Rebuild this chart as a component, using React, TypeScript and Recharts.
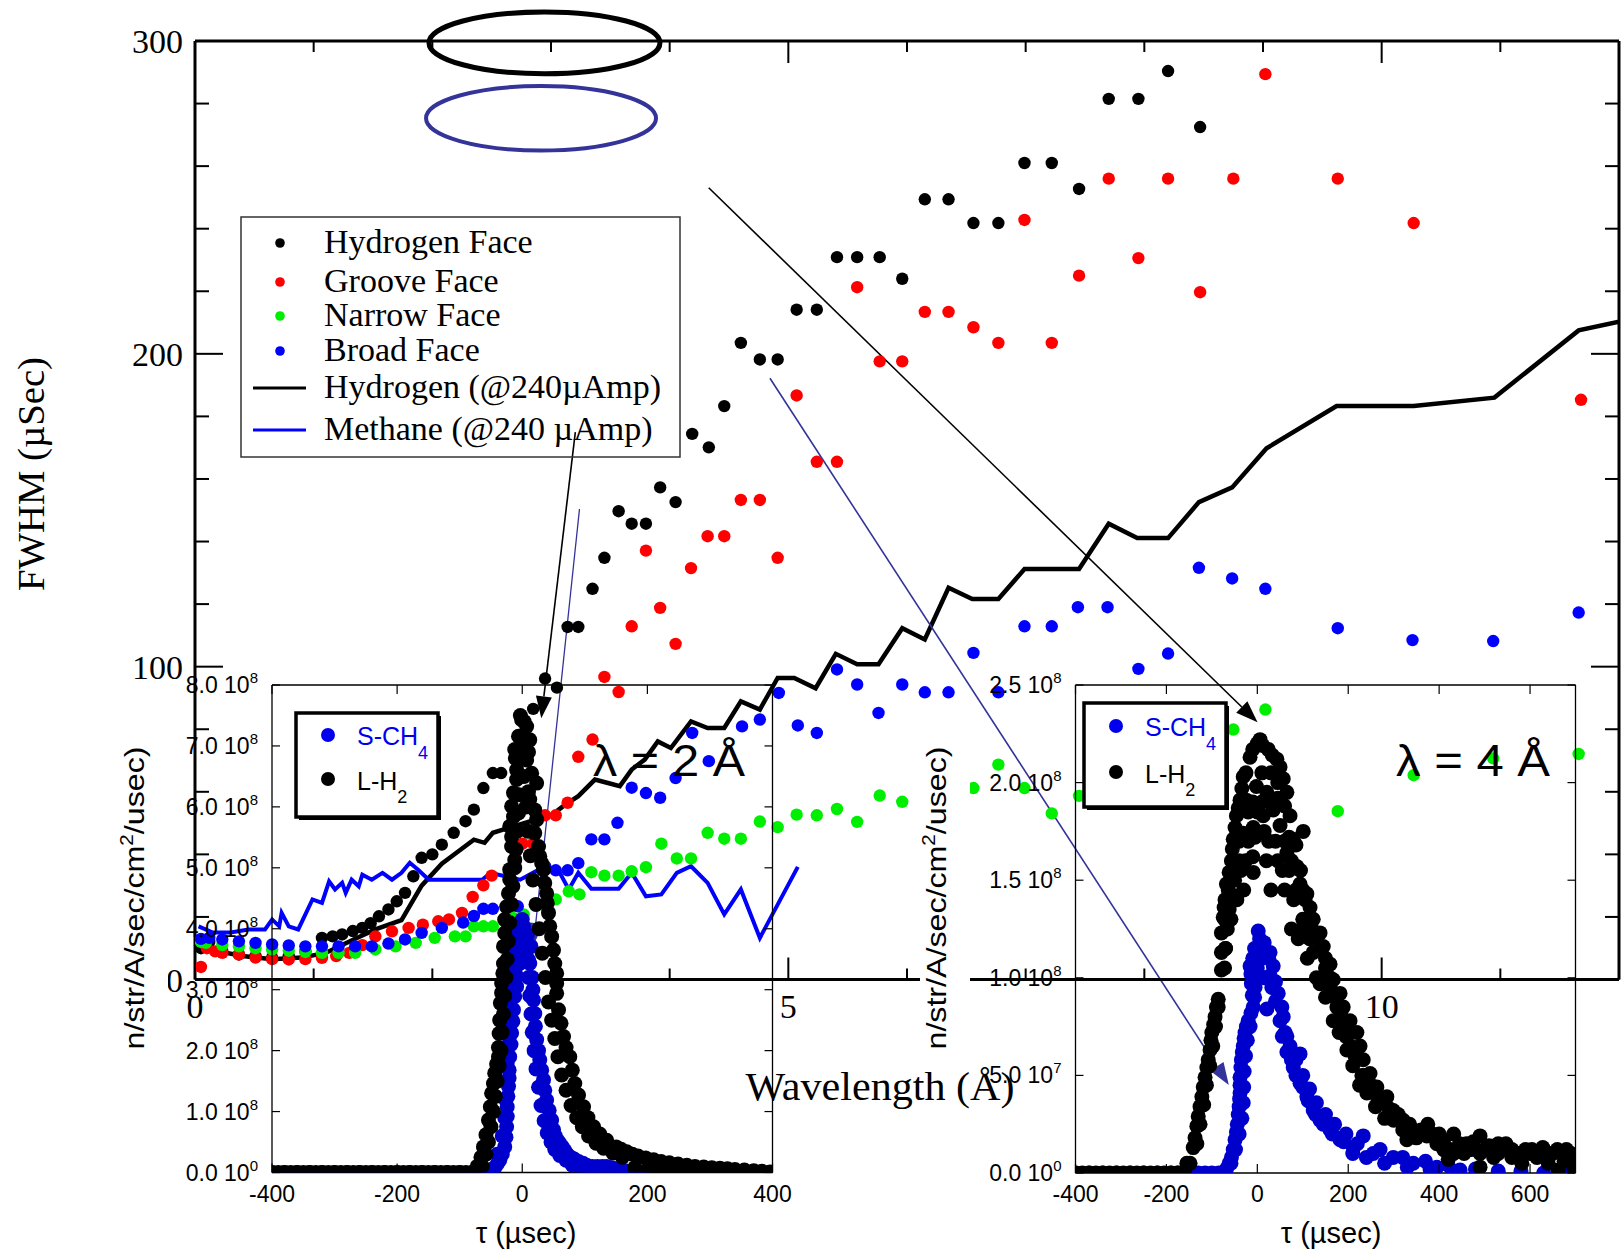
import React from 'react';
import {
  ComposedChart,
  ScatterChart,
  Scatter,
  Line,
  XAxis,
  YAxis,
  ReferenceLine,
  ReferenceArea,
} from 'recharts';

const SERIF = '"Liberation Serif", "Times New Roman", serif';
const SANS = '"Liberation Sans", Arial, sans-serif';

const PAGE_W = 1621;
const PAGE_H = 1251;

// ---------- main chart: FWHM (µs) vs wavelength (Å) ----------
type Pair = [number, number];

const hydrogenFace: Pair[] = [
  [0.05, 10], [0.12, 12], [0.23, 9], [0.37, 8], [0.51, 7.5], [0.65, 7], [0.79, 7.5], [0.93, 9],
  [1.07, 13.3], [1.16, 13.8], [1.24, 14.4], [1.33, 15.5], [1.41, 16.5], [1.48, 18], [1.55, 20.2],
  [1.63, 22.4], [1.7, 25], [1.77, 27.7], [1.84, 33], [1.91, 38.9], [2.0, 40], [2.08, 43.1],
  [2.18, 46.9], [2.28, 50.6], [2.35, 54.3], [2.43, 61.2], [2.51, 66], [2.58, 66], [2.85, 86.5],
  [2.95, 96.2], [3.05, 93.3], [3.14, 112.7], [3.23, 112.7], [3.35, 124.9], [3.45, 134.8],
  [3.57, 149.7], [3.68, 145.7], [3.8, 145.7], [3.92, 157.3], [4.05, 152.6], [4.19, 174.4],
  [4.33, 170.1], [4.46, 183.3], [4.6, 203.5], [4.76, 198.2], [4.91, 198.2], [5.07, 214.1],
  [5.24, 214.1], [5.41, 230.9], [5.58, 230.9], [5.77, 230.9], [5.96, 224], [6.15, 249.4],
  [6.35, 249.4], [6.56, 241.8], [6.77, 241.8], [6.99, 261], [7.22, 261], [7.45, 252.7],
  [7.7, 281.5], [7.95, 281.5], [8.2, 290.4], [8.47, 272.5],
];

const grooveFace: Pair[] = [
  [0.05, 4], [0.1, 10], [0.17, 9], [0.23, 8.5], [0.37, 8], [0.51, 7], [0.65, 6.5], [0.79, 6.4],
  [0.93, 6.5], [1.07, 6.9], [1.19, 7.5], [1.3, 8.5], [1.41, 11], [1.52, 13.8], [1.66, 15.4],
  [1.8, 16.5], [1.92, 17.5], [2.05, 18.6], [2.14, 19.2], [2.25, 21.3], [2.34, 26.4], [2.43, 30.1],
  [2.5, 33.2], [2.76, 43.4], [2.85, 43.4], [2.95, 52.5], [3.04, 52.5], [3.14, 56.5], [3.23, 71.2],
  [3.35, 76.7], [3.45, 96.7], [3.57, 91.9], [3.68, 112.9], [3.8, 137.1], [3.92, 118.8],
  [4.05, 107.3], [4.18, 131.5], [4.32, 141.7], [4.46, 141.7], [4.6, 153.3], [4.76, 153.3],
  [4.91, 134.8], [5.07, 186.7], [5.24, 165.5], [5.41, 165.5], [5.58, 221.3], [5.77, 197.6],
  [5.96, 197.6], [6.15, 213.4], [6.35, 213.4], [6.56, 208.5], [6.77, 203.5], [6.99, 242.8],
  [7.22, 203.5], [7.45, 225], [7.7, 256], [7.95, 230.6], [8.2, 256], [8.47, 219.7], [8.75, 256],
  [9.02, 289.4], [9.63, 256], [10.27, 241.8], [11.68, 185.3],
];

const narrowFace: Pair[] = [
  [0.05, 12], [0.09, 11.7], [0.23, 11], [0.37, 10.6], [0.51, 10], [0.65, 9.6], [0.79, 9.2],
  [0.93, 8.8], [1.07, 8.5], [1.21, 8.5], [1.35, 8.5], [1.52, 9.6], [1.69, 10.6], [1.86, 11.7],
  [2.02, 13.3], [2.19, 13.8], [2.28, 13.8], [2.35, 17], [2.43, 17], [2.51, 17], [2.6, 19.2],
  [2.68, 19.7], [2.77, 20.8], [2.96, 22.9], [3.04, 25.6], [3.15, 28.2], [3.24, 27.2],
  [3.34, 34.3], [3.45, 33.2], [3.57, 33.2], [3.68, 34.6], [3.8, 35.9], [3.93, 43.4],
  [4.06, 38.7], [4.18, 38.7], [4.32, 46.9], [4.46, 45], [4.6, 45], [4.76, 50.5], [4.91, 48.7],
  [5.07, 52.7], [5.24, 52.5], [5.41, 54.5], [5.58, 50.4], [5.77, 58.8], [5.96, 56.8],
  [6.56, 61.2], [6.77, 68.7], [6.99, 61.2], [7.22, 53.1], [7.45, 58.7], [8.75, 79.9],
  [9.02, 86.3], [9.63, 53.8], [10.27, 65.3], [10.94, 70.7], [11.66, 72.1],
];

const broadFace: Pair[] = [
  [0.05, 13], [0.12, 13.3], [0.23, 12.8], [0.37, 12.2], [0.51, 11.7], [0.65, 11.2], [0.79, 10.9],
  [0.93, 10.6], [1.07, 10.6], [1.21, 10.6], [1.35, 10.6], [1.49, 10.6], [1.63, 11.5], [1.77, 12.8],
  [1.91, 14.9], [2.08, 16.5], [2.26, 18.2], [2.35, 20.3], [2.43, 22.6], [2.51, 22.6], [2.72, 23.4],
  [2.95, 36.2], [3.04, 34.9], [3.14, 34.9], [3.23, 37.2], [3.34, 44.8], [3.45, 44.8], [3.56, 50.1],
  [3.68, 61.3], [3.8, 59.6], [3.92, 58.1], [4.05, 64.4], [4.19, 78.8], [4.33, 69.8], [4.61, 80.9],
  [4.76, 83.1], [4.92, 91.6], [5.08, 81.2], [5.24, 78.8], [5.41, 99.1], [5.58, 94.3], [5.76, 85.2],
  [5.96, 94.3], [6.15, 91.8], [6.35, 91.8], [6.56, 104.4], [6.77, 91.8], [6.99, 112.9],
  [7.22, 112.9], [7.44, 119], [7.69, 119], [7.95, 99.3], [8.2, 104.2], [8.46, 131.6],
  [8.74, 128.2], [9.02, 124.9], [9.63, 112.3], [10.26, 108.5], [10.94, 108.2], [11.66, 117.3],
];

const hydrogen240: Pair[] = [
  [0.05, 11], [0.2, 9], [0.4, 7.5], [0.65, 6.5], [0.9, 7], [1.1, 8.5], [1.35, 13], [1.52, 16],
  [1.74, 19], [1.91, 30], [2.08, 37], [2.22, 41], [2.35, 44.7], [2.44, 43.7], [2.51, 46.9],
  [2.87, 51.1], [3.01, 52.7], [3.12, 55.9], [3.23, 58.6], [3.37, 63.9], [3.48, 62.8], [3.58, 61.8],
  [3.68, 67.1], [3.79, 70.3], [3.9, 76.1], [4.01, 74], [4.18, 82.5], [4.32, 80.4], [4.46, 80.4],
  [4.6, 88.9], [4.76, 86.3], [4.91, 96.4], [5.05, 96.4], [5.23, 93.1], [5.4, 104.1], [5.58, 100.8],
  [5.76, 100.8], [5.96, 112.3], [6.15, 108.7], [6.35, 125.2], [6.55, 121.6], [6.77, 121.6],
  [6.99, 131.2], [7.45, 131.2], [7.7, 145.7], [7.94, 141.1], [8.2, 141.1], [8.46, 152.6],
  [8.74, 157.3], [9.03, 169.8], [9.62, 183.3], [10.27, 183.3], [10.95, 186], [11.66, 207.5],
  [12, 210.3],
];

const methane240: Pair[] = [
  [0.03, 17], [0.15, 15], [0.3, 15], [0.45, 16], [0.59, 16], [0.65, 19.2], [0.71, 17], [0.73, 21.3],
  [0.79, 17], [0.87, 16], [0.99, 25.6], [1.07, 24.5], [1.13, 31.4], [1.18, 28.8], [1.24, 30.9],
  [1.27, 27.7], [1.32, 31.9], [1.38, 29.8], [1.41, 33.5], [1.49, 31.9], [1.58, 34.1], [1.66, 31.9],
  [1.74, 34.1], [1.81, 37.3], [1.88, 35.1], [1.97, 31.9], [2.22, 31.9], [2.42, 31.9], [2.49, 34.1],
  [2.74, 31.9], [2.95, 36.2], [3.06, 35.1], [3.15, 28.8], [3.23, 34.1], [3.34, 29], [3.57, 29],
  [3.68, 34.1], [3.8, 26.6], [3.93, 27.2], [4.06, 34.1], [4.18, 36.2], [4.32, 30.9], [4.46, 20.8],
  [4.6, 28.8], [4.76, 13.3], [5.08, 36],
];

const wavelengthTicks = [0, 1, 2, 3, 4, 5, 6, 7, 8, 9, 10, 11, 12];
const fwhmTicks = [0, 20, 40, 60, 80, 100, 120, 140, 160, 180, 200, 220, 240, 260, 280, 300];

const mainLegend = [
  { label: 'Hydrogen Face', kind: 'dot', color: '#000000' },
  { label: 'Groove Face', kind: 'dot', color: '#ff0000' },
  { label: 'Narrow Face', kind: 'dot', color: '#00ee00' },
  { label: 'Broad Face', kind: 'dot', color: '#0000ff' },
  { label: 'Hydrogen (@240\u00b5Amp)', kind: 'line', color: '#000000' },
  { label: 'Methane (@240 \u00b5Amp)', kind: 'line', color: '#0000ff' },
];

// ---------- inset at 2 Å: counts (units of 10^8) vs tau (µs) ----------
const lh2At2A: Pair[] = [
  [-400, 0], [-390, 0], [-380, 0], [-370, 0], [-360, 0], [-350, 0], [-340, 0], [-330, 0], [-320, 0],
  [-310, 0], [-300, 0], [-290, 0], [-280, 0], [-270, 0], [-260, 0], [-250, 0], [-240, 0], [-230, 0],
  [-220, 0], [-210, 0], [-200, 0], [-190, 0], [-180, 0], [-170, 0], [-160, 0], [-150, 0], [-140, 0],
  [-130, 0], [-120, 0], [-110, 0], [-100, 0], [-90, 0], [-80, 0],
  [-72, 0.1], [-66, 0.25], [-62, 0.42], [-58, 0.62], [-54, 0.86], [-51, 1.08], [-49, 1.3],
  [-46, 1.46], [-44, 1.63], [-41, 1.78], [-38, 1.9], [-38, 2.05], [-37, 2.28], [-36, 2.5],
  [-35, 2.78], [-33, 2.95], [-33, 3.11], [-31, 3.27], [-30, 3.43], [-30, 3.71], [-28, 3.93],
  [-28, 4.15], [-25, 4.36], [-22, 4.58], [-20, 4.81], [-20, 4.97], [-12, 5.13], [-17, 5.35],
  [-17, 5.51], [-20, 5.68], [-14, 5.84], [-17, 6.01], [-14, 6.23], [-9, 6.45], [-9, 6.61],
  [-11, 6.8], [-12, 6.94], [-6, 7.16], [-1, 7.43], [-3, 7.5], [7, 7.32], [12, 7.1], [10, 6.9],
  [7, 6.77], [15, 6.55], [23, 6.39], [10, 6.25], [12, 6.12], [20, 5.95], [23, 5.79], [20, 5.57],
  [26, 5.35], [28, 5.19], [31, 5.08], [34, 4.97], [36, 4.75], [39, 4.58], [40, 4.42], [42, 4.26],
  [44, 4.04], [47, 3.87], [50, 3.65], [52, 3.43], [55, 3.27], [55, 3.1], [55, 2.94], [58, 2.67],
  [62, 2.45], [66, 2.23], [70, 2.05], [76, 1.9], [80, 1.68], [84, 1.46], [90, 1.27], [98, 1.08],
  [105, 0.9], [114, 0.75], [124, 0.63], [135, 0.53], [150, 0.42], [158, 0.38], [167, 0.34],
  [176, 0.3], [185, 0.27], [197, 0.24], [210, 0.21], [222, 0.18], [235, 0.16], [249, 0.14],
  [263, 0.12], [276, 0.1], [290, 0.09], [303, 0.08], [316, 0.07], [328, 0.06], [340, 0.05],
  [355, 0.04], [370, 0.03], [383, 0.02], [396, 0.01], [400, 0],
  [180, 0.08], [200, 0.04], [220, 0.02], [240, 0.01], [260, 0], [280, 0], [300, 0], [320, 0],
  [340, 0], [360, 0], [380, 0],
  [-64, 0.1], [-58, 0.3], [-54, 0.5], [-50, 0.75], [-46, 1.0], [-43, 1.25], [-40, 1.5], [-37, 1.75],
  [-34, 2.0], [-32, 2.3], [-30, 2.6], [-28, 2.9], [-26, 3.2], [-24, 3.5], [-22, 3.8], [-20, 4.1],
  [-17, 4.4], [-15, 4.7], [-12, 5.0], [-10, 5.3], [-8, 5.6], [-6, 5.9], [-5, 6.2], [-3, 6.5],
  [-1, 6.8], [1, 7.1], [3, 7.4],
  [0, 7.0], [3, 6.5], [6, 6.0], [9, 5.6], [13, 5.2], [17, 4.8], [22, 4.4], [27, 4.0], [32, 3.6],
  [37, 3.2], [42, 2.8], [47, 2.5], [52, 2.2], [57, 1.9], [63, 1.6], [70, 1.35], [78, 1.1],
  [87, 0.9], [96, 0.75], [106, 0.6], [118, 0.48], [130, 0.4], [145, 0.32], [160, 0.25],
];

const sch4At2A: Pair[] = [
  [-400, 0], [-380, 0], [-360, 0], [-340, 0], [-320, 0], [-300, 0], [-280, 0], [-260, 0], [-240, 0],
  [-220, 0], [-200, 0], [-180, 0], [-160, 0], [-140, 0], [-120, 0], [-100, 0], [-80, 0], [-70, 0],
  [-60, 0], [-52, 0.02], [-48, 0.05], [-44, 0.08], [-40, 0.14], [-36, 0.2], [-32, 0.3], [-28, 0.42],
  [-26, 0.58], [-25, 0.75], [-24, 0.92], [-24, 1.08], [-23, 1.25], [-22, 1.41], [-21, 1.55],
  [-21, 1.68], [-20, 1.9], [-18, 2.1], [-17, 2.29], [-15, 2.48], [-14, 2.67], [-12, 2.89],
  [-9, 3.05], [-9, 3.21], [-11, 3.27], [-4, 3.43], [-6, 3.65], [-6, 3.87], [-7, 4.04], [0, 4.15],
  [2, 4.04], [5, 3.85], [7, 3.65], [10, 3.49], [12, 3.43], [14, 3.71], [16, 3.2], [17, 3],
  [18, 2.83], [20, 2.61], [21, 2.4], [23, 2.18], [26, 2], [28, 1.85], [31, 1.68], [34, 1.52],
  [36, 1.35], [39, 1.19], [43, 1.02], [47, 0.86], [50, 0.7], [53, 0.6], [57, 0.52], [60, 0.48],
  [64, 0.42], [68, 0.36], [72, 0.3], [76, 0.26], [83, 0.22], [90, 0.18], [97, 0.15], [103, 0.12],
  [112, 0.1], [120, 0.1], [128, 0.1], [135, 0.1], [143, 0.08], [150, 0.06], [158, 0.05],
  [165, 0.03], [174, 0.02], [183, 0.01], [190, 0],
  [-40, 0.3], [-32, 0.6], [-28, 0.9], [-27, 1.2], [-26, 1.5], [-24, 1.8], [-22, 2.1], [-20, 2.4],
  [-18, 2.7], [-16, 3.0], [-14, 3.3], [-12, 3.6], [-10, 3.9],
  [8, 3.9], [10, 3.2], [12, 2.9], [14, 2.6], [16, 2.3], [19, 2.0], [22, 1.7], [26, 1.4], [30, 1.1],
  [35, 0.85], [40, 0.65], [46, 0.5], [52, 0.38], [60, 0.28], [70, 0.2], [80, 0.12], [95, 0.06],
  [110, 0.03],
];

const tauTicks2A = [-400, -200, 0, 200, 400];
const countTicks2A = [0, 1, 2, 3, 4, 5, 6, 7, 8];

// ---------- inset at 4 Å ----------
const lh2At4A: Pair[] = [
  [-400, 0], [-385, 0], [-370, 0], [-355, 0], [-340, 0], [-325, 0], [-310, 0], [-295, 0], [-280, 0],
  [-265, 0], [-250, 0], [-235, 0], [-220, 0], [-205, 0], [-190, 0], [-175, 0], [-160, 0],
  [-155, 0.05], [-141, 0.13], [-137, 0.18], [-133, 0.24], [-130, 0.29], [-126, 0.34], [-122, 0.39],
  [-119, 0.44], [-115, 0.49], [-111, 0.54], [-108, 0.58], [-104, 0.63], [-102, 0.68], [-100, 0.72],
  [-96, 0.76], [-93, 0.8], [-90, 0.85], [-86, 0.89], [-79, 1.04], [-79, 1.13], [-79, 1.23],
  [-75, 1.31], [-73, 1.36], [-71, 1.4], [-68, 1.48], [-66, 1.25], [-62, 1.35], [-62, 1.54],
  [-57, 1.6], [-55, 1.66], [-53, 1.71], [-49, 1.77], [-46, 1.83], [-42, 1.87], [-38, 1.91],
  [-34, 1.97], [-31, 2.03], [-24, 1.91], [-16, 2.13], [-10, 2.17], [6, 2.22], [0, 2.2], [12, 2.19],
  [24, 2.17], [33, 2.14], [43, 2.12], [50, 2.08], [-2, 1.98], [21, 1.95], [35, 1.86], [13, 1.83],
  [-31, 1.74], [-9, 1.77], [50, 1.78], [-20, 1.85], [-9, 1.54], [101, 1.75], [-40, 1.7],
  [-50, 1.5], [-20, 1.7], [0, 1.85], [30, 1.9], [40, 1.7], [60, 1.7], [70, 1.55], [80, 1.4],
  [57, 2.02], [65, 1.95], [72, 1.83], [79, 1.71], [65, 1.64], [87, 1.57], [94, 1.48], [109, 1.43],
  [116, 1.36], [123, 1.3], [101, 1.26], [138, 1.23], [145, 1.16], [123, 1.13], [160, 1.07],
  [167, 0.99], [182, 0.92], [189, 0.85], [204, 0.78], [219, 0.72], [226, 0.65], [233, 0.58],
  [248, 0.51], [263, 0.44], [285, 0.39], [299, 0.32], [321, 0.27], [343, 0.22], [373, 0.19],
  [395, 0.15], [424, 0.12], [241, 0.41], [197, 0.63], [167, 0.78], [138, 0.97], [150, 0.9],
  [180, 0.72], [210, 0.55], [225, 0.45], [260, 0.34], [280, 0.28], [329, 0.17], [375, 0.25],
  [432, 0.2], [432, 0.1], [490, 0.19], [490, 0.1], [547, 0.12], [547, 0.15], [604, 0.12],
  [628, 0.13], [650, 0.1], [685, 0.07], [697, 0.015], [420, 0.07], [490, 0.03], [582, 0.05],
  [662, 0.015], [460, 0.15], [520, 0.08], [575, 0.1], [640, 0.05], [700, 0],
  [-26, 1.6], [-36, 1.55], [-45, 1.4], [-58, 1.3], [-70, 1.15], [55, 1.55], [75, 1.25], [90, 1.2],
  [110, 1.1], [130, 1.0], [100, 1.45], [115, 1.2], [150, 1.05], [160, 0.95], [175, 0.85],
  [195, 0.75], [205, 0.65], [235, 0.5], [250, 0.42], [270, 0.38], [300, 0.27], [320, 0.22],
  [350, 0.18], [400, 0.2], [410, 0.12], [455, 0.1], [475, 0.16], [510, 0.14], [530, 0.1],
  [560, 0.08], [590, 0.12], [615, 0.08], [660, 0.12], [675, 0.06], [690, 0.1],
  [-25, 2.05], [10, 2.05], [30, 2.05], [45, 2.0], [-10, 1.9], [10, 1.9], [45, 1.92], [60, 1.88],
  [-45, 1.75], [-5, 1.72], [15, 1.75], [25, 1.7], [70, 1.72], [85, 1.68], [-55, 1.6], [-40, 1.6],
  [-10, 1.62], [20, 1.6], [45, 1.6], [75, 1.6], [95, 1.55], [-64, 1.45], [-50, 1.42], [-30, 1.45],
  [30, 1.45], [60, 1.45], [85, 1.45], [105, 1.4], [-72, 1.3], [-60, 1.3], [100, 1.3], [120, 1.25],
  [130, 1.2], [150, 1.1], [160, 1.0], [170, 0.9], [185, 0.8], [195, 0.7], [215, 0.6], [230, 0.5],
  [250, 0.45], [265, 0.38], [290, 0.33], [310, 0.3], [335, 0.25], [360, 0.22], [385, 0.2],
  [410, 0.17], [445, 0.15], [470, 0.12], [500, 0.12], [530, 0.15], [560, 0.12], [600, 0.1],
  [640, 0.1], [680, 0.12], [-148, 0.05], [-133, 0.15], [-126, 0.25], [-118, 0.35], [-112, 0.45],
  [-105, 0.55], [-98, 0.65], [-92, 0.75], [-86, 0.85], [-72, 1.05], [-70, 1.15], [-68, 1.25],
];

const sch4At4A: Pair[] = [
  [-400, 0], [-370, 0], [-340, 0], [-310, 0], [-280, 0], [-250, 0], [-220, 0], [-190, 0], [-175, 0],
  [-160, 0], [-145, 0], [-130, 0], [-115, 0], [-100, 0], [-85, 0], [-72, 0],
  [-68, 0.02], [-62, 0.05], [-57, 0.08], [-53, 0.12], [-49, 0.17], [-46, 0.21], [-44, 0.25],
  [-42, 0.3], [-40, 0.34], [-39, 0.38], [-38, 0.41], [-38, 0.45], [-38, 0.49], [-36, 0.54],
  [-35, 0.58], [-33, 0.62], [-31, 0.65], [-29, 0.69], [-27, 0.72], [-24, 0.75], [-20, 0.78],
  [-14, 0.82], [-9, 0.85], [-11, 0.91], [-13, 0.97], [-14, 1.02], [-16, 1.06], [-10, 1.1],
  [2, 1.24], [6, 1.16], [28, 1.13], [35, 1.06], [28, 1.01], [21, 0.84], [46, 0.92], [54, 0.85],
  [57, 0.8], [61, 0.72], [72, 0.65], [94, 0.61], [79, 0.54], [94, 0.46], [109, 0.39], [123, 0.32],
  [138, 0.27], [160, 0.22], [182, 0.17], [211, 0.13], [233, 0.19], [255, 0.1], [299, 0.08],
  [343, 0.05], [395, 0.03], [446, 0.015], [10, 1.1], [15, 1], [0, 1.05], [-5, 0.95], [40, 0.98],
  [15, 1.18], [-3, 1.1], [65, 0.7], [85, 0.58], [100, 0.5], [115, 0.43], [130, 0.36], [150, 0.3],
  [170, 0.25], [195, 0.2], [220, 0.15], [270, 0.12], [320, 0.08], [370, 0.06], [420, 0.04],
  [480, 0.02], [530, 0.01], [580, 0.01], [630, 0], [680, 0],
  [-58, 0.05], [-48, 0.12], [-40, 0.2], [-34, 0.28], [-31, 0.36], [-30, 0.44], [-29, 0.52],
  [-26, 0.6], [-22, 0.68], [-16, 0.75], [-6, 0.9], [-4, 1.0], [-6, 1.15], [5, 1.2],
  [25, 1.1], [32, 0.95], [40, 0.88], [50, 0.78], [55, 0.7], [65, 0.62], [75, 0.58], [85, 0.5],
  [100, 0.44], [112, 0.37], [128, 0.3], [145, 0.25], [165, 0.2], [190, 0.16], [210, 0.1],
  [240, 0.08], [280, 0.05], [330, 0.03], [380, 0.02], [430, 0.01],
];

const tauTicks4A = [-400, -200, 0, 200, 400, 600];
const countTicks4A = [0, 0.5, 1, 1.5, 2, 2.5];

// ---------- layout ----------
const AXIS_W = 60; // width given to every y axis
const AXIS_H = 40; // height given to every x axis

// plot boxes (left, top, right, bottom edges measured from the page)
const MAIN_BOX = { left: 195, top: 41, right: 1619, bottom: 979.5 };
const INSET2_BOX = { left: 272, top: 685, right: 772.5, bottom: 1172.5 };
const INSET4_BOX = { left: 1075.5, top: 685, right: 1575.5, bottom: 1173 };

const marginFor = (b: typeof MAIN_BOX) => ({
  left: b.left - AXIS_W,
  top: b.top,
  right: PAGE_W - b.right,
  bottom: PAGE_H - b.bottom - AXIS_H,
});

const MAIN_W = MAIN_BOX.right - MAIN_BOX.left;
const MAIN_H = MAIN_BOX.bottom - MAIN_BOX.top;

const toPts = (arr: Pair[]) => arr.map(([x, y]) => ({ x, y }));

const dot = (color: string, r: number) => (p: any) =>
  <circle cx={p.cx} cy={p.cy} r={r} fill={color} />;

const MainXTick = (p: any) => {
  const { x, y, payload } = p;
  const v = payload.value;
  const major = v % 5 === 0;
  const len = major ? 22 : 11;
  return (
    <g>
      <line x1={x} y1={y} x2={x} y2={y - len} stroke="#000" strokeWidth={2} />
      <line x1={x} y1={y - MAIN_H} x2={x} y2={y - MAIN_H + len} stroke="#000" strokeWidth={2} />
      {major && v < 12 && (
        <text x={x} y={y + 38} textAnchor="middle" fontFamily={SERIF} fontSize={34} fill="#000">
          {v}
        </text>
      )}
    </g>
  );
};

const MainYTick = (p: any) => {
  const { x, y, payload } = p;
  const v = payload.value;
  const major = v % 100 === 0;
  const len = major ? 28 : 14;
  return (
    <g>
      <line x1={x} y1={y} x2={x + len} y2={y} stroke="#000" strokeWidth={2} />
      <line x1={x + MAIN_W} y1={y} x2={x + MAIN_W - len} y2={y} stroke="#000" strokeWidth={2} />
      {major && (
        <text x={x - 12} y={y + 12} textAnchor="end" fontFamily={SERIF} fontSize={34} fill="#000">
          {v}
        </text>
      )}
    </g>
  );
};

const arrowShape = (color: string, width: number) => (p: any) => {
  const { x1, y1, x2, y2 } = p;
  const a = Math.atan2(y2 - y1, x2 - x1);
  const L = 22;
  const hw = 8;
  const bx = x2 - L * Math.cos(a);
  const by = y2 - L * Math.sin(a);
  const pts = `${x2},${y2} ${bx + hw * Math.sin(a)},${by - hw * Math.cos(a)} ${bx - hw * Math.sin(a)},${by + hw * Math.cos(a)}`;
  return (
    <g>
      <line x1={x1} y1={y1} x2={bx} y2={by} stroke={color} strokeWidth={width} />
      <polygon points={pts} fill={color} />
    </g>
  );
};

const ellipseShape = (color: string, width: number) => (p: any) => (
  <ellipse
    cx={p.x + p.width / 2}
    cy={p.y + p.height / 2}
    rx={Math.abs(p.width) / 2}
    ry={Math.abs(p.height) / 2}
    fill="none"
    stroke={color}
    strokeWidth={width}
  />
);

function MainChart() {
  return (
    <ComposedChart width={PAGE_W} height={PAGE_H} margin={marginFor(MAIN_BOX)}>
      <XAxis
        type="number"
        dataKey="x"
        domain={[0, 12]}
        ticks={wavelengthTicks}
        interval={0}
        height={AXIS_H}
        tickSize={0}
        tickMargin={0}
        tickLine={false}
        allowDataOverflow
        axisLine={{ stroke: '#000', strokeWidth: 3 }}
        tick={(p: any) => <MainXTick {...p} />}
      />
      <YAxis
        type="number"
        dataKey="y"
        domain={[0, 300]}
        ticks={fwhmTicks}
        interval={0}
        width={AXIS_W}
        tickSize={0}
        tickMargin={0}
        tickLine={false}
        allowDataOverflow
        axisLine={{ stroke: '#000', strokeWidth: 3 }}
        tick={(p: any) => <MainYTick {...p} />}
      />
      <ReferenceLine y={300} stroke="#000" strokeWidth={3} />
      <ReferenceLine x={12} stroke="#000" strokeWidth={3} />

      <Line
        data={toPts(hydrogen240)}
        dataKey="y"
        type="linear"
        stroke="#000"
        strokeWidth={4.5}
        dot={false}
        activeDot={false}
        isAnimationActive={false}
      />
      <Line
        data={toPts(methane240)}
        dataKey="y"
        type="linear"
        stroke="#0000ff"
        strokeWidth={4}
        dot={false}
        activeDot={false}
        isAnimationActive={false}
      />
      <Scatter data={toPts(hydrogenFace)} shape={dot('#000000', 6.2)} isAnimationActive={false} />
      <Scatter data={toPts(grooveFace)} shape={dot('#ff0000', 6.2)} isAnimationActive={false} />
      <Scatter data={toPts(narrowFace)} shape={dot('#00ee00', 6.2)} isAnimationActive={false} />
      <Scatter data={toPts(broadFace)} shape={dot('#0000ff', 6.2)} isAnimationActive={false} />

      <ReferenceArea x1={1.972} x2={3.918} y1={289.5} y2={309.3} ifOverflow="visible" shape={ellipseShape('#000', 5)} />
      <ReferenceArea x1={1.947} x2={3.885} y1={265} y2={285.6} ifOverflow="visible" shape={ellipseShape('#333399', 4)} />

      <ReferenceLine segment={[{ x: 4.329, y: 253.1 }, { x: 8.954, y: 82.2 }]} ifOverflow="visible" shape={arrowShape('#000', 1.6)} />
      <ReferenceLine segment={[{ x: 3.205, y: 175 }, { x: 2.918, y: 83.5 }]} ifOverflow="visible" shape={arrowShape('#000', 1.6)} />
      <ReferenceLine segment={[{ x: 4.845, y: 192.2 }, { x: 8.712, y: -33.7 }]} ifOverflow="visible" shape={arrowShape('#333399', 1.6)} />
      <ReferenceLine segment={[{ x: 3.24, y: 150.4 }, { x: 2.852, y: 11 }]} ifOverflow="visible" shape={arrowShape('#333399', 1.3)} />
    </ComposedChart>
  );
}

// ---------- inset ----------
const sciParts = (v: number): [string, string] => {
  if (v === 0) return ['0.0', '0'];
  const raw = v * 1e8;
  const e = Math.floor(Math.log10(raw) + 1e-9);
  return [(raw / Math.pow(10, e)).toFixed(1), String(e)];
};

const InsetXTick = (p: any) => {
  const { x, y, payload, plotH } = p;
  return (
    <g>
      <line x1={x} y1={y} x2={x} y2={y - 9} stroke="#000" strokeWidth={1.2} />
      <line x1={x} y1={y - plotH} x2={x} y2={y - plotH + 9} stroke="#000" strokeWidth={1.2} />
      <text x={x} y={y + 29} textAnchor="middle" fontFamily={SANS} fontSize={23} fill="#000">
        {String(payload.value)}
      </text>
    </g>
  );
};

const InsetYTick = (p: any) => {
  const { x, y, payload, plotW } = p;
  const [m, e] = sciParts(payload.value);
  return (
    <g>
      <line x1={x} y1={y} x2={x + 8} y2={y} stroke="#000" strokeWidth={1.2} />
      <line x1={x + plotW} y1={y} x2={x + plotW - 8} y2={y} stroke="#000" strokeWidth={1.2} />
      <text x={x - 14} y={y + 8} textAnchor="end" fontFamily={SANS} fontSize={23} fill="#000">
        {`${m} 10`}
        <tspan dy={-10} fontSize={15}>{e}</tspan>
      </text>
    </g>
  );
};

type InsetProps = {
  box: typeof MAIN_BOX;
  xDomain: [number, number];
  xTicks: number[];
  yDomain: [number, number];
  yTicks: number[];
  black: Pair[];
  blue: Pair[];
};

function Inset({ box, xDomain, xTicks, yDomain, yTicks, black, blue }: InsetProps) {
  const plotW = box.right - box.left;
  const plotH = box.bottom - box.top;
  return (
    <ScatterChart width={PAGE_W} height={PAGE_H} margin={marginFor(box)}>
      <XAxis
        type="number"
        dataKey="x"
        domain={xDomain}
        ticks={xTicks}
        interval={0}
        height={AXIS_H}
        tickSize={0}
        tickMargin={0}
        tickLine={false}
        allowDataOverflow
        axisLine={{ stroke: '#000', strokeWidth: 1.3 }}
        tick={(p: any) => <InsetXTick {...p} plotH={plotH} />}
      />
      <YAxis
        type="number"
        dataKey="y"
        domain={yDomain}
        ticks={yTicks}
        interval={0}
        width={AXIS_W}
        tickSize={0}
        tickMargin={0}
        tickLine={false}
        allowDataOverflow
        axisLine={{ stroke: '#000', strokeWidth: 1.3 }}
        tick={(p: any) => <InsetYTick {...p} plotW={plotW} />}
      />
      <ReferenceLine y={yDomain[1]} stroke="#000" strokeWidth={1.3} />
      <ReferenceLine x={xDomain[1]} stroke="#000" strokeWidth={1.3} />
      <Scatter data={toPts(blue)} shape={dot('#0000cc', 7.5)} isAnimationActive={false} />
      <Scatter data={toPts(black)} shape={dot('#000000', 7.5)} isAnimationActive={false} />
    </ScatterChart>
  );
}

// ---------- texts, legends ----------
function InsetLegend({ x, y, rows }: { x: number; y: number; rows: number[] }) {
  return (
    <g>
      <rect x={x + 3} y={y + 3} width={142} height={104} fill="#000" />
      <rect x={x} y={y} width={142} height={104} fill="#fff" stroke="#000" strokeWidth={3.5} />
      <circle cx={x + 32} cy={y + rows[0]} r={7} fill="#0000ee" />
      <text x={x + 61} y={y + rows[0] + 10} fontFamily={SANS} fontSize={25} fill="#0000ee">
        S-CH<tspan dy={14} fontSize={18}>4</tspan>
      </text>
      <circle cx={x + 32} cy={y + rows[1]} r={7} fill="#000" />
      <text x={x + 61} y={y + rows[1] + 11} fontFamily={SANS} fontSize={25} fill="#000">
        L-H<tspan dy={13} fontSize={18}>2</tspan>
      </text>
    </g>
  );
}

function YTitleInset({ x }: { x: number }) {
  return (
    <g>
      <rect x={x - 26} y={742} width={50} height={310} fill="#fff" />
      <text
        x={x}
        y={898}
        transform={`rotate(-90 ${x} 898)`}
        textAnchor="middle"
        fontFamily={SANS}
        fontSize={28}
        fill="#000"
        textLength={303}
        lengthAdjust="spacingAndGlyphs"
      >
        n/str/A/sec/cm<tspan dy={-11} fontSize={18}>2</tspan>
        <tspan dy={11}>/usec)</tspan>
      </text>
    </g>
  );
}

function Overlay() {
  const rowY = [243, 282, 316, 351, 388, 430];
  return (
    <svg
      width={PAGE_W}
      height={PAGE_H}
      style={{ position: 'absolute', left: 0, top: 0, pointerEvents: 'none' }}
    >
      {/* main legend */}
      <rect x={241} y={217} width={439} height={240} fill="none" stroke="#333" strokeWidth={1.5} />
      {mainLegend.map((item, i) => (
        <g key={item.label}>
          {item.kind === 'dot' ? (
            <circle cx={280} cy={rowY[i]} r={4.8} fill={item.color} />
          ) : (
            <line x1={253} y1={rowY[i]} x2={306} y2={rowY[i]} stroke={item.color} strokeWidth={3} />
          )}
          <text x={324} y={rowY[i] + 10} fontFamily={SERIF} fontSize={34} fill="#000">
            {item.label}
          </text>
        </g>
      ))}

      {/* main axis titles */}
      <text
        x={44}
        y={474}
        transform="rotate(-90 44 474)"
        textAnchor="middle"
        fontFamily={SERIF}
        fontSize={38}
        fill="#000"
        textLength={234}
        lengthAdjust="spacingAndGlyphs"
      >
        FWHM ({'\u00b5'}Sec)
      </text>
      <text
        x={880}
        y={1100}
        textAnchor="middle"
        fontFamily={SERIF}
        fontSize={40}
        fill="#000"
        textLength={269}
        lengthAdjust="spacingAndGlyphs"
      >
        Wavelength ({'\u00c5'})
      </text>

      {/* inset titles */}
      <YTitleInset x={144} />
      <YTitleInset x={946} />
      <text x={526} y={1243} textAnchor="middle" fontFamily={SANS} fontSize={29} fill="#000">
        {'\u03c4 (\u00b5sec)'}
      </text>
      <text x={1331} y={1243} textAnchor="middle" fontFamily={SANS} fontSize={29} fill="#000">
        {'\u03c4 (\u00b5sec)'}
      </text>

      <InsetLegend x={296} y={713} rows={[22, 66]} />
      <InsetLegend x={1084} y={703} rows={[23, 69]} />

      <text x={593} y={776} fontFamily={SANS} fontSize={44} fill="#000" textLength={152} lengthAdjust="spacingAndGlyphs">
        {'\u03bb = 2 \u00c5'}
      </text>
      <text x={1396} y={776} fontFamily={SANS} fontSize={44} fill="#000" textLength={154} lengthAdjust="spacingAndGlyphs">
        {'\u03bb = 4 \u00c5'}
      </text>
    </svg>
  );
}

export default function App() {
  return (
    <div style={{ position: 'absolute', left: 0, top: 0, width: PAGE_W, height: PAGE_H, background: '#fff' }}>
      <div style={{ position: 'absolute', left: 0, top: 0 }}>
        <MainChart />
      </div>
      <div style={{ position: 'absolute', left: 0, top: 0 }}>
        <Inset
          box={INSET2_BOX}
          xDomain={[-400, 400]}
          xTicks={tauTicks2A}
          yDomain={[0, 8]}
          yTicks={countTicks2A}
          black={lh2At2A}
          blue={sch4At2A}
        />
      </div>
      <div style={{ position: 'absolute', left: 0, top: 0 }}>
        <Inset
          box={INSET4_BOX}
          xDomain={[-400, 700]}
          xTicks={tauTicks4A}
          yDomain={[0, 2.5]}
          yTicks={countTicks4A}
          black={lh2At4A}
          blue={sch4At4A}
        />
      </div>
      <Overlay />
    </div>
  );
}
